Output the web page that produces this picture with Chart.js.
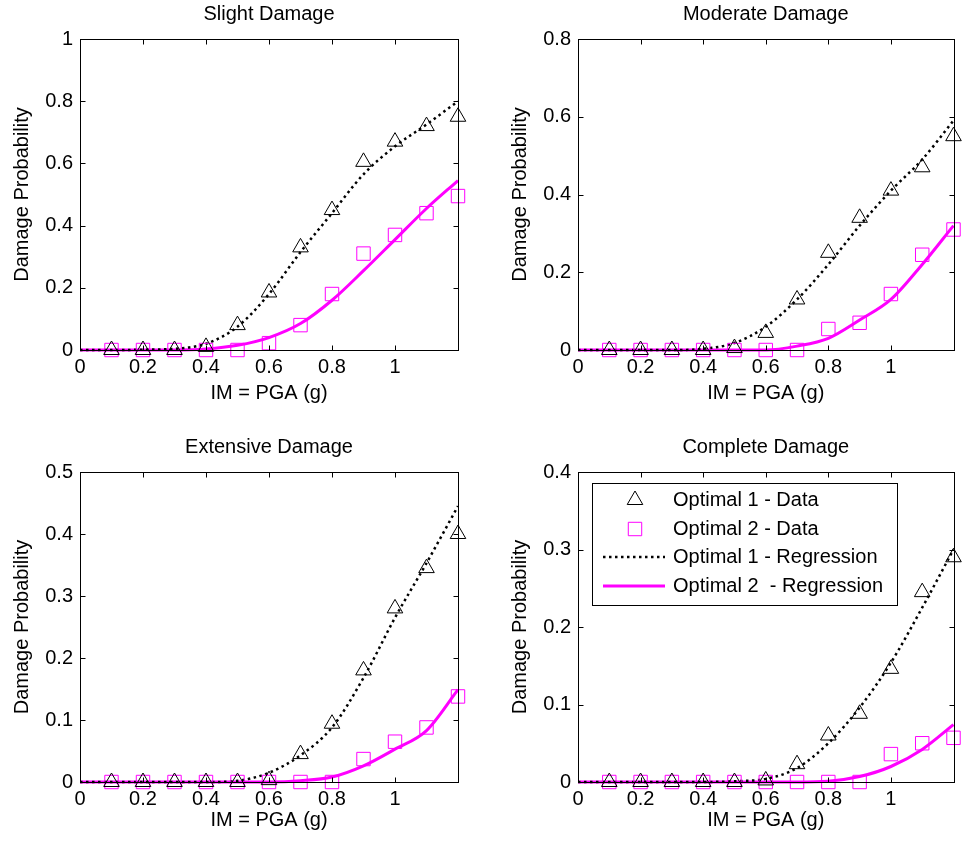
<!DOCTYPE html>
<html>
<head>
<meta charset="utf-8">
<script src="https://cdn.jsdelivr.net/npm/chart.js@4.4.1/dist/chart.umd.min.js"></script>
<style>
html,body{margin:0;padding:0;background:#fff;overflow:hidden;}
.p{position:absolute;}
canvas{display:block;}
</style>
</head>
<body>
<div class="p" style="left:0;top:0;"><canvas id="k0" width="482" height="421"></canvas></div>
<div class="p" style="left:482px;top:0;"><canvas id="k1" width="482" height="421"></canvas></div>
<div class="p" style="left:0;top:421px;"><canvas id="k2" width="482" height="422"></canvas></div>
<div class="p" style="left:482px;top:421px;"><canvas id="k3" width="482" height="422"></canvas></div>
<script>
// ---------- data ----------
const IM = [0.1, 0.2, 0.3, 0.4, 0.5, 0.6, 0.7, 0.8, 0.9, 1.0, 1.1, 1.2];
const IM_REG = [0, 0.1, 0.2, 0.3, 0.4, 0.5, 0.6, 0.7, 0.8, 0.9, 1.0, 1.1, 1.2];
const X_TICKS = [0, 0.2, 0.4, 0.6, 0.8, 1, 1.2];
const PANEL_TITLES = ['Slight Damage', 'Moderate Damage', 'Extensive Damage', 'Complete Damage'];
const Y_MAX = [1, 0.8, 0.5, 0.4];
const Y_STEP = [0.2, 0.2, 0.1, 0.1];
const SERIES_LABELS = ['Optimal 1 - Data', 'Optimal 2 - Data', 'Optimal 1 - Regression', 'Optimal 2  - Regression'];

const slightOpt1Data = [0, 0, 0, 0.01, 0.08, 0.185, 0.33, 0.45, 0.605, 0.67, 0.72, 0.75];
const slightOpt2Data = [0, 0, 0, 0, 0, 0.022, 0.08, 0.18, 0.31, 0.37, 0.44, 0.495];
const slightOpt1Reg  = [0, 0, 0.001, 0.004, 0.02, 0.075, 0.18, 0.315, 0.44, 0.565, 0.655, 0.725, 0.80];
const slightOpt2Reg  = [0, 0, 0, 0, 0.003, 0.015, 0.04, 0.085, 0.16, 0.255, 0.355, 0.455, 0.545];

const moderateOpt1Data = [0, 0, 0, 0, 0.005, 0.044, 0.13, 0.25, 0.34, 0.41, 0.47, 0.55];
const moderateOpt2Data = [0, 0, 0, 0, 0, 0, 0, 0.054, 0.07, 0.144, 0.245, 0.31];
const moderateOpt1Reg  = [0, 0, 0, 0, 0.003, 0.018, 0.06, 0.13, 0.22, 0.32, 0.41, 0.49, 0.59];
const moderateOpt2Reg  = [0, 0, 0, 0, 0, 0, 0, 0.01, 0.03, 0.077, 0.13, 0.22, 0.32];

const extensiveOpt1Data = [0, 0, 0, 0, 0, 0.003, 0.045, 0.094, 0.18, 0.28, 0.345, 0.40];
const extensiveOpt2Data = [0, 0, 0, 0, 0, 0, 0, 0, 0.037, 0.065, 0.088, 0.138];
const extensiveOpt1Reg  = [0, 0, 0, 0, 0, 0.002, 0.015, 0.043, 0.088, 0.168, 0.265, 0.353, 0.445];
const extensiveOpt2Reg  = [0, 0, 0, 0, 0, 0, 0, 0.002, 0.008, 0.026, 0.053, 0.083, 0.149];

const completeOpt1Data = [0, 0, 0, 0, 0, 0.002, 0.023, 0.06, 0.088, 0.146, 0.245, 0.29];
const completeOpt2Data = [0, 0, 0, 0, 0, 0, 0, 0, 0, 0.036, 0.05, 0.057];
const completeOpt1Reg  = [0, 0, 0, 0, 0, 0.001, 0.004, 0.018, 0.05, 0.096, 0.154, 0.225, 0.30];
const completeOpt2Reg  = [0, 0, 0, 0, 0, 0, 0, 0, 0.001, 0.007, 0.02, 0.042, 0.074];

const PANEL_SERIES = [
  [slightOpt1Data, slightOpt2Data, slightOpt1Reg, slightOpt2Reg],
  [moderateOpt1Data, moderateOpt2Data, moderateOpt1Reg, moderateOpt2Reg],
  [extensiveOpt1Data, extensiveOpt2Data, extensiveOpt1Reg, extensiveOpt2Reg],
  [completeOpt1Data, completeOpt2Data, completeOpt1Reg, completeOpt2Reg]
];

// ---------- style / layout ----------
const FONT = "'Liberation Sans', Arial, Helvetica, sans-serif";
const FS = 20;
const MAGENTA = '#ff00ff';
const LAYOUT = [
  {padL: 0,  padR: 24, tTop: 2,  tBot: 13, xH: 71, xtPad: 15.5},
  {padL: 16, padR: 7,  tTop: 2,  tBot: 13, xH: 71, xtPad: 15.5},
  {padL: 0,  padR: 24, tTop: 14, tBot: 13, xH: 61, xtPad: 11},
  {padL: 16, padR: 7,  tTop: 14, tBot: 13, xH: 61, xtPad: 11}
];

const fmt = v => String(Math.round(v * 10) / 10);

const framePlugin = {
  id: 'frame',
  afterDatasetsDraw(chart) {
    const {ctx, chartArea: a, scales: {x, y}} = chart;
    const T = 5;
    ctx.save();
    ctx.strokeStyle = '#000';
    ctx.lineWidth = 1;
    ctx.setLineDash([]);
    const L = Math.round(a.left) + 0.5, R = Math.round(a.right) + 0.5;
    const Tp = Math.round(a.top) + 0.5, B = Math.round(a.bottom) + 0.5;
    ctx.strokeRect(L, Tp, R - L, B - Tp);
    ctx.beginPath();
    x.ticks.forEach(t => {
      const px = Math.round(x.getPixelForValue(t.value)) + 0.5;
      ctx.moveTo(px, B); ctx.lineTo(px, B - T);
      ctx.moveTo(px, Tp); ctx.lineTo(px, Tp + T);
    });
    y.ticks.forEach(t => {
      const py = Math.round(y.getPixelForValue(t.value)) + 0.5;
      ctx.moveTo(L, py); ctx.lineTo(L + T, py);
      ctx.moveTo(R, py); ctx.lineTo(R - T, py);
    });
    ctx.stroke();
    ctx.restore();
  }
};

const legendPlugin = {
  id: 'boxLegend',
  afterDraw(chart, args, opts) {
    if (!opts || !opts.show) return;
    const {ctx, chartArea: a} = chart;
    const bx = Math.round(a.left) + 14.5, by = Math.round(a.top) + 11.5, bw = 305, bh = 122;
    const rows = [28, 57, 85, 114];
    ctx.save();
    ctx.fillStyle = '#fff';
    ctx.fillRect(bx, by, bw, bh);
    ctx.strokeStyle = '#000';
    ctx.lineWidth = 1;
    ctx.strokeRect(bx, by, bw, bh);
    chart.data.datasets.forEach((ds, i) => {
      const cy = Math.round(a.top) + rows[i];
      ctx.save();
      if (ds.showLine) {
        ctx.strokeStyle = ds.borderColor;
        ctx.lineWidth = ds.borderWidth;
        ctx.setLineDash(ds.borderDash || []);
        ctx.beginPath();
        ctx.moveTo(a.left + 25, cy);
        ctx.lineTo(a.left + 87, cy);
        ctx.stroke();
      } else {
        ctx.strokeStyle = ds.borderColor;
        ctx.fillStyle = 'rgba(0,0,0,0)';
        ctx.lineWidth = ds.borderWidth;
        Chart.helpers.drawPoint(ctx, {pointStyle: ds.pointStyle, radius: ds.pointRadius, borderWidth: ds.borderWidth, rotation: 0}, a.left + 57, cy);
      }
      ctx.restore();
      ctx.fillStyle = '#000';
      ctx.font = FS + 'px ' + FONT;
      ctx.textBaseline = 'middle';
      ctx.textAlign = 'left';
      ctx.fillText(ds.label, a.left + 95, cy);
    });
    ctx.restore();
  }
};

PANEL_TITLES.forEach((title, p) => {
  const L = LAYOUT[p];
  const s = PANEL_SERIES[p];
  const pts = (xs, ys) => ys.map((v, i) => ({x: xs[i], y: v}));
  const datasets = [
    {label: SERIES_LABELS[0], data: pts(IM, s[0]), showLine: false, pointStyle: 'triangle', pointRadius: 9,
     borderColor: '#000', backgroundColor: 'rgba(0,0,0,0)', borderWidth: 1, pointBorderWidth: 1, clip: false},
    {label: SERIES_LABELS[1], data: pts(IM, s[1]), showLine: false, pointStyle: 'rect', pointRadius: 9.5,
     borderColor: MAGENTA, backgroundColor: 'rgba(0,0,0,0)', borderWidth: 1, pointBorderWidth: 1, clip: false},
    {label: SERIES_LABELS[2], data: pts(IM_REG, s[2]), showLine: true, pointRadius: 0, borderColor: '#000',
     borderWidth: 2.5, borderDash: [2.5, 3.5], cubicInterpolationMode: 'monotone', fill: false, clip: false},
    {label: SERIES_LABELS[3], data: pts(IM_REG, s[3]), showLine: true, pointRadius: 0, borderColor: MAGENTA,
     borderWidth: 3, cubicInterpolationMode: 'monotone', fill: false, clip: false}
  ];
  new Chart(document.getElementById('k' + p), {
    type: 'scatter',
    data: {datasets},
    plugins: [framePlugin, legendPlugin],
    options: {
      responsive: false,
      animation: false,
      events: [],
      layout: {padding: {left: L.padL, right: L.padR, top: 0, bottom: 0}},
      plugins: {
        legend: {display: false},
        tooltip: {enabled: false},
        title: {display: true, text: title, color: '#000', fullSize: false,
                font: {family: FONT, size: FS, weight: 'normal'},
                padding: {top: L.tTop, bottom: L.tBot}},
        boxLegend: {show: p === 3}
      },
      scales: {
        x: {
          type: 'linear', min: 0, max: 1.2,
          grid: {display: false, drawTicks: false},
          border: {display: false},
          afterBuildTicks: sc => { sc.ticks = X_TICKS.map(v => ({value: v})); },
          ticks: {color: '#000', font: {family: FONT, size: FS}, padding: 5, maxRotation: 0, autoSkip: false,
                  callback: v => (v > 1.1 ? '' : fmt(v))},
          title: {display: true, text: 'IM = PGA (g)', color: '#000', font: {family: FONT, size: FS},
                  padding: {top: 0, bottom: L.xtPad}},
          afterFit: sc => { sc.height = L.xH; }
        },
        y: {
          type: 'linear', min: 0, max: Y_MAX[p],
          grid: {display: false, drawTicks: false},
          border: {display: false},
          ticks: {stepSize: Y_STEP[p], color: '#000', font: {family: FONT, size: FS}, padding: 7,
                  callback: v => fmt(v)},
          title: {display: true, text: 'Damage Probability', color: '#000', font: {family: FONT, size: FS},
                  padding: {top: 10.5, bottom: 0}},
          afterFit: sc => { sc.width = 80; }
        }
      }
    }
  });
});
</script>
</body>
</html>
